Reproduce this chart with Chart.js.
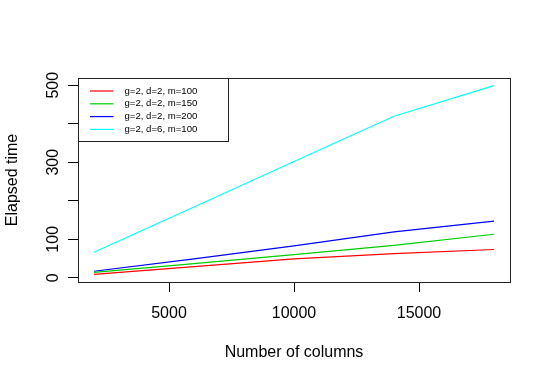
<!DOCTYPE html>
<html>
<head>
<meta charset="utf-8">
<script src="https://cdn.jsdelivr.net/npm/chart.js@4/dist/chart.umd.min.js"></script>
<style>
  html, body { margin: 0; padding: 0; background: #fff; }
  #wrap { width: 550px; height: 380px; }
</style>
</head>
<body>
<div id="wrap"><canvas id="chart" width="550" height="380"></canvas></div>
<script>
// data
const columns = [2000, 6000, 10000, 14000, 18000];
const m100 = [9, 29, 49, 63, 73.5];
const m150 = [14, 37, 60, 84, 113];
const m200 = [17, 49, 83, 119, 147];
const d6m100 = [66.5, 184, 302, 419.5, 499];
const seriesLabels = ['g=2, d=2, m=100', 'g=2, d=2, m=150', 'g=2, d=2, m=200', 'g=2, d=6, m=100'];
const xTicks = [5000, 10000, 15000];
const yTicks = [0, 100, 200, 300, 400, 500];
const yLabelsShown = [0, 100, 300, 500];

const FONT = 'Liberation Sans, Arial, Helvetica, sans-serif';
const colors = ['#ff0000', '#00cd00', '#0000ff', '#00ffff'];

function pts(ys) {
  return columns.map((x, i) => ({ x: x, y: ys[i] }));
}

// plot box + legend drawn the R way
const rBox = {
  id: 'rBox',
  afterDatasetsDraw(chart) {
    const { ctx, chartArea: a } = chart;
    ctx.save();
    ctx.strokeStyle = '#222';
    ctx.lineWidth = 1;
    ctx.strokeRect(a.left + 0.5, a.top + 0.5, a.right - a.left, a.bottom - a.top);

    // legend, top-left corner of the plot region
    const bx = a.left + 0.5, by = a.top + 0.5, bw = 150, bh = 63;
    ctx.fillStyle = '#fff';
    ctx.fillRect(bx, by, bw, bh);
    ctx.strokeStyle = '#222';
    ctx.strokeRect(bx, by, bw, bh);
    ctx.font = '9.6px ' + FONT;
    ctx.textBaseline = 'middle';
    ctx.textAlign = 'left';
    chart.data.datasets.forEach((ds, i) => {
      const y = by + 12.5 + i * 12.8;
      ctx.strokeStyle = ds.borderColor;
      ctx.lineWidth = 1.2;
      ctx.beginPath();
      ctx.moveTo(bx + 11.5, y);
      ctx.lineTo(bx + 35, y);
      ctx.stroke();
      ctx.fillStyle = '#000';
      ctx.fillText(ds.label, bx + 46, y);
    });
    ctx.restore();
  }
};

const ctx = document.getElementById('chart').getContext('2d');
new Chart(ctx, {
  type: 'line',
  data: {
    datasets: [m100, m150, m200, d6m100].map((ys, i) => ({
      label: seriesLabels[i],
      data: pts(ys),
      borderColor: colors[i],
      backgroundColor: colors[i],
      borderWidth: 1.2,
      pointRadius: 0,
      tension: 0,
      fill: false
    }))
  },
  options: {
    responsive: false,
    animation: false,
    devicePixelRatio: 1,
    layout: { padding: { left: 0, top: 78, right: 40, bottom: 0 } },
    plugins: {
      legend: { display: false },
      tooltip: { enabled: false }
    },
    scales: {
      x: {
        type: 'linear',
        min: 1360,
        max: 18640,
        afterBuildTicks: s => { s.ticks = xTicks.map(v => ({ value: v })); },
        afterFit: s => { s.height = 98; },
        grid: { drawOnChartArea: false, drawTicks: true, tickLength: 10, color: '#000' },
        border: { display: true, color: '#222' },
        ticks: {
          color: '#000',
          padding: 12,
          maxRotation: 0,
          autoSkip: false,
          font: { family: FONT, size: 16 },
          callback: v => String(v)
        },
        title: {
          display: true,
          text: 'Number of columns',
          color: '#000',
          font: { family: FONT, size: 16 },
          padding: { top: 0, bottom: 18 }
        }
      },
      y: {
        type: 'linear',
        min: -10.9,
        max: 518.7,
        afterBuildTicks: s => { s.ticks = yTicks.map(v => ({ value: v })); },
        afterFit: s => { s.width = 78; },
        grid: { drawOnChartArea: false, drawTicks: true, tickLength: 10, color: '#000' },
        border: { display: true, color: '#222' },
        ticks: {
          color: '#000',
          padding: 1,
          minRotation: 90,
          maxRotation: 90,
          crossAlign: 'center',
          autoSkip: false,
          font: { family: FONT, size: 16 },
          callback: v => (yLabelsShown.includes(v) ? String(v) : '')
        },
        title: {
          display: true,
          text: 'Elapsed time',
          color: '#000',
          font: { family: FONT, size: 16 },
          padding: { top: 3, bottom: 0 }
        }
      }
    }
  },
  plugins: [rBox]
});
</script>
</body>
</html>
